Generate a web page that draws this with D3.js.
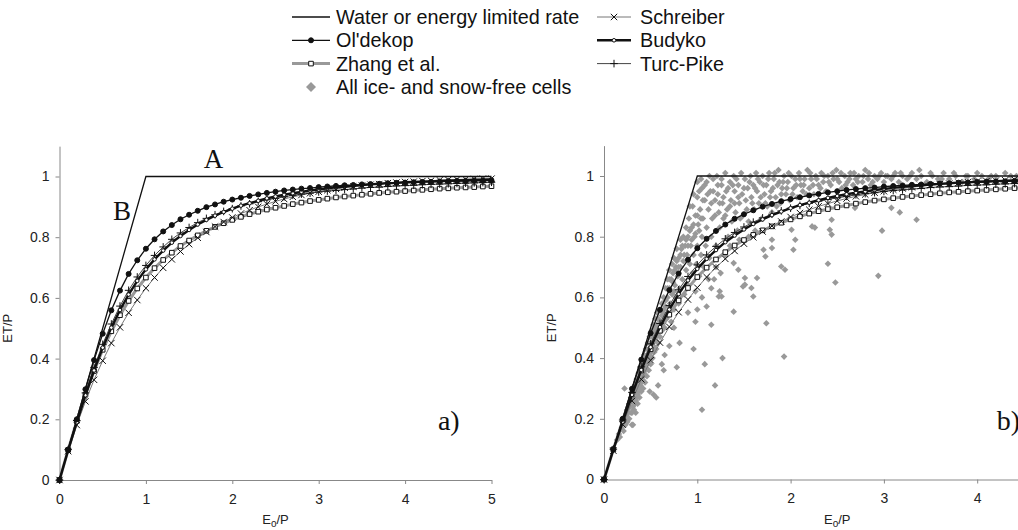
<!DOCTYPE html>
<html>
<head>
<meta charset="utf-8">
<script src="https://cdn.jsdelivr.net/npm/d3@7"></script>
<style>
  body { margin: 0; background: #fff; }
  text { font-family: Arial, "Liberation Sans", sans-serif; }
</style>
</head>
<body>
<div id="chart"></div>
<script>

// E0/P values at which the model curves are marked
var phi = [0,0.1,0.2,0.3,0.4,0.5,0.6,0.7,0.8,0.9,1,1.1,1.2,1.3,1.4,1.5,1.6,1.7,1.8,1.9,2,
  2.1,2.2,2.3,2.4,2.5,2.6,2.7,2.8,2.9,3,3.1,3.2,3.3,3.4,3.5,3.6,3.7,3.8,3.9,4,
  4.1,4.2,4.3,4.4,4.5,4.6,4.7,4.8,4.9,5];

// ET/P
var oldekop = [0,0.1,0.2,0.299,0.395,0.482,0.559,0.624,0.679,0.724,0.762,0.793,0.819,0.840,0.859,0.874,0.887,0.899,0.908,0.917,0.924,
  0.930,0.936,0.941,0.946,0.950,0.954,0.957,0.960,0.962,0.965,0.967,0.969,0.971,0.972,0.974,0.975,0.976,0.978,0.979,0.980,
  0.981,0.982,0.982,0.983,0.984,0.985,0.985,0.986,0.986,0.987];
var schreiber = [0,0.095,0.181,0.259,0.330,0.393,0.451,0.503,0.551,0.593,0.632,0.667,0.699,0.727,0.753,0.777,0.798,0.817,0.835,0.850,0.865,
  0.878,0.889,0.900,0.909,0.918,0.926,0.933,0.939,0.945,0.950,0.955,0.959,0.963,0.967,0.970,0.973,0.975,0.978,0.980,0.982,
  0.983,0.985,0.986,0.988,0.989,0.990,0.991,0.992,0.993,0.993];
var turcPike = [0,0.100,0.196,0.287,0.371,0.447,0.514,0.573,0.625,0.669,0.707,0.740,0.768,0.793,0.814,0.832,0.848,0.862,0.874,0.885,0.894,
  0.903,0.910,0.917,0.923,0.928,0.933,0.938,0.942,0.945,0.949,0.952,0.954,0.957,0.959,0.962,0.964,0.965,0.967,0.969,0.970,
  0.971,0.973,0.974,0.975,0.976,0.977,0.978,0.979,0.980,0.981];
var budyko = [0,0.098,0.190,0.279,0.361,0.436,0.502,0.560,0.611,0.656,0.694,0.727,0.756,0.782,0.804,0.824,0.842,0.857,0.871,0.883,0.894,
  0.904,0.912,0.920,0.928,0.934,0.940,0.945,0.949,0.954,0.957,0.961,0.964,0.967,0.969,0.972,0.974,0.976,0.978,0.979,0.981,
  0.982,0.983,0.984,0.985,0.986,0.987,0.988,0.989,0.989,0.990];
var zhang = [0,0.099,0.194,0.281,0.359,0.429,0.490,0.543,0.590,0.631,0.667,0.698,0.725,0.749,0.771,0.789,0.806,0.821,0.834,0.846,0.857,
  0.867,0.876,0.884,0.891,0.897,0.903,0.909,0.914,0.919,0.923,0.927,0.931,0.934,0.937,0.940,0.943,0.946,0.948,0.950,0.952,
  0.954,0.956,0.958,0.960,0.961,0.963,0.964,0.965,0.967,0.968];

// water or energy limit
var limitX = [0, 1, 5];
var limitY = [0, 1, 1];

// ice- and snow-free cells, [E0/P, ET/P]
var cells = [
  [0.14,0.13],[0.16,0.15],[0.17,0.14],[0.19,0.17],[0.2,0.19],[0.21,0.16],[0.22,0.2],[0.23,0.18],[0.24,0.21],[0.25,0.19],
  [0.25,0.23],[0.26,0.22],[0.27,0.2],[0.27,0.25],[0.28,0.24],[0.29,0.22],[0.29,0.27],[0.3,0.26],[0.3,0.18],[0.31,0.24],
  [0.31,0.29],[0.32,0.27],[0.33,0.25],[0.33,0.31],[0.34,0.29],[0.34,0.22],[0.35,0.27],[0.35,0.33],[0.36,0.31],[0.36,0.25],
  [0.37,0.29],[0.37,0.35],[0.38,0.33],[0.38,0.27],[0.39,0.31],[0.39,0.37],[0.4,0.35],[0.4,0.29],[0.41,0.33],[0.41,0.39],
  [0.42,0.37],[0.42,0.3],[0.43,0.35],[0.43,0.41],[0.44,0.39],[0.44,0.32],[0.45,0.37],[0.45,0.43],[0.46,0.41],[0.46,0.34],
  [0.47,0.39],[0.47,0.45],[0.48,0.43],[0.48,0.36],[0.49,0.41],[0.49,0.47],[0.5,0.45],[0.5,0.38],[0.51,0.42],[0.51,0.49],
  [0.52,0.47],[0.52,0.4],[0.53,0.44],[0.53,0.51],[0.54,0.49],[0.54,0.42],[0.55,0.46],[0.55,0.53],[0.56,0.51],[0.56,0.43],
  [0.57,0.48],[0.57,0.55],[0.58,0.53],[0.58,0.45],[0.59,0.5],[0.6,0.56],[0.6,0.47],[0.61,0.52],[0.62,0.58],[0.62,0.49],
  [0.31,0.18],[0.22,0.3],[0.49,0.29],[0.56,0.27],[0.58,0.31],[0.64,0.36],[0.62,0.38],[0.53,0.28],[0.65,0.41],[0.78,0.37],
  [0.81,0.45],[0.96,0.43],[1.08,0.38],[1.19,0.31],[1.05,0.23],[1.27,0.4],[1.93,0.405],[0.7,0.44],[0.75,0.5],
  [0.63,0.55],[0.64,0.6],[0.65,0.5],[0.66,0.57],[0.66,0.63],[0.67,0.53],[0.68,0.6],[0.68,0.66],[0.69,0.55],[0.7,0.63],
  [0.7,0.69],[0.71,0.58],[0.72,0.66],[0.72,0.52],[0.73,0.71],[0.73,0.61],[0.74,0.68],[0.75,0.56],[0.75,0.73],[0.76,0.64],
  [0.77,0.7],[0.77,0.6],[0.78,0.76],[0.79,0.67],[0.8,0.73],[0.8,0.58],[0.81,0.63],[0.82,0.79],[0.82,0.7],[0.83,0.76],
  [0.84,0.66],[0.85,0.8],[0.85,0.72],[0.86,0.61],[0.87,0.77],[0.88,0.83],[0.88,0.69],[0.89,0.74],[0.9,0.8],[0.9,0.64],
  [0.91,0.86],[0.92,0.71],[0.93,0.77],[0.94,0.83],[0.95,0.68],[0.95,0.9],[0.96,0.74],[0.97,0.8],[0.98,0.87],[0.98,0.62],
  [0.99,0.71],[1.0,0.93],[1.0,0.77],[1.01,0.84],[1.02,0.67],[1.03,0.89],[1.04,0.74],[1.05,0.96],[1.05,0.8],[1.06,0.86],
  [1.07,0.7],[1.08,0.92],[1.09,0.77],[1.1,0.98],[1.1,0.83],[1.12,0.89],[1.13,0.73],[1.14,0.95],[1.15,0.8],[1.16,0.86],
  [1.17,0.99],[1.18,0.66],[1.19,0.92],[1.2,0.77],
  [1.21,1.0],[1.22,0.94],[1.23,0.88],[1.24,0.83],[1.26,0.97],[1.27,0.91],[1.28,0.86],[1.3,1.01],[1.31,0.95],[1.32,0.89],
  [1.33,0.8],[1.35,0.98],[1.36,0.92],[1.37,0.85],[1.39,1.0],[1.4,0.95],[1.41,0.88],[1.43,0.82],[1.44,0.97],[1.45,0.91],
  [1.47,1.01],[1.48,0.94],[1.49,0.87],[1.51,0.99],[1.52,0.92],[1.54,0.96],[1.55,0.85],[1.57,1.0],[1.58,0.93],[1.6,0.97],
  [1.61,0.89],[1.63,1.01],[1.64,0.95],[1.66,0.91],[1.67,0.98],[1.69,0.86],[1.7,1.0],[1.72,0.94],[1.74,0.97],[1.75,0.9],
  [1.77,1.01],[1.79,0.95],[1.8,0.88],[1.82,0.99],[1.84,0.93],[1.86,0.97],[1.87,1.02],[1.89,0.91],[1.91,0.96],[1.93,1.0],
  [1.95,0.94],[1.97,0.98],[1.99,0.92],[2.01,1.0],[2.03,0.96],[2.05,0.99],[2.07,0.93],[2.09,1.01],[2.11,0.97],[2.13,0.95],
  [2.15,0.99],[2.18,1.02],[2.2,0.96],[2.22,0.99],[2.25,0.94],[2.27,1.0],[2.3,0.97],[2.33,1.01],[2.35,0.98],[2.38,0.95],
  [2.4,1.0],[2.43,0.97],[2.46,0.99],[2.49,1.02],[2.52,0.98],[2.55,0.96],[2.58,1.0],[2.61,0.98],[2.64,1.01],[2.67,0.97],
  [2.7,0.99],[2.73,1.0],[2.77,0.98],[2.8,1.02],[2.83,0.99],[2.86,0.97],[2.9,1.0],[2.93,0.99],[2.97,1.01],[3.0,0.98],
  [3.04,1.0],[3.08,0.99],[3.12,1.01],[3.16,0.98],[3.2,1.0],[3.25,0.99],[3.3,1.01],[3.35,0.99],[3.4,1.0],[3.46,0.98],
  [3.52,1.0],[3.58,0.99],[3.64,1.01],[3.7,0.99],[3.77,1.0],[3.84,0.98],[3.9,1.0],[3.97,0.99],[4.05,1.0],[4.12,0.99],
  [4.2,1.0],[4.28,0.98],[4.36,1.0],[4.45,0.99],[4.55,1.0],
  [2.01,0.823],[2.05,0.79],[1.8,0.79],[1.71,0.757],[1.9,0.702],[1.94,0.691],[1.44,0.691],[1.39,0.713],[1.51,0.664],[1.51,0.642],
  [1.64,0.664],[1.58,0.631],[1.6,0.603],[1.23,0.603],[1.26,0.603],[1.39,0.553],[1.15,0.51],[1.74,0.515],[2.03,0.757],[1.73,0.735],
  [1.8,0.763],[2.23,0.834],[2.26,0.83],[2.44,0.856],[2.42,0.823],[2.44,0.807],[2.4,0.711],[2.48,0.649],[2.94,0.671],[2.98,0.82],
  [3.08,0.895],[3.17,0.88],[2.69,0.895],[3.35,0.856],[1.24,0.62],[0.98,0.52],[1.49,0.636],
  [1.12,0.66],[1.2,0.7],[1.3,0.74],[1.35,0.77],[1.45,0.79],[1.55,0.8],[1.62,0.82],[1.25,0.68],[1.05,0.6],[1.15,0.63],
  [1.1,0.57],[0.9,0.55],[1.0,0.56],
  [0.92,0.9],[0.96,0.94],[1.0,0.98],[1.02,0.95],[1.04,0.99],[1.06,0.92],[1.08,0.97],[1.11,0.94],[1.13,1.0],[1.15,0.91],
  [1.17,0.95],[1.19,0.87],[1.22,0.97],[1.24,0.91],[1.26,0.99],[1.28,0.93],[1.3,0.87],[1.33,0.96],[1.35,0.9],[1.38,0.97],
  [1.4,0.91],[1.42,0.99],[1.44,0.93],[1.46,0.86],[1.5,0.96],[1.53,0.89],[1.56,0.98],[1.59,0.91],[1.62,0.96],[1.65,0.99],
  [1.68,0.93],[1.71,0.97],[1.73,0.91],[1.76,0.99],[1.78,0.93],[1.81,0.96],[1.83,1.01],[1.85,0.9],[1.88,0.98],[1.9,0.94],
  [1.92,0.98],[1.96,0.96],[1.98,1.01],[2.02,0.94],[2.06,0.97],[2.1,0.99],[2.14,0.97],[2.17,0.94],[2.21,1.01],[2.24,0.97],
  [2.28,0.99],[2.32,0.96],[2.36,1.0],[2.41,0.98],[2.45,1.01],[2.5,0.99],[2.54,1.01],[2.59,0.97],[2.63,0.99],[2.68,1.01],
  [2.72,0.98],[2.78,1.0],[2.84,1.01],[2.88,0.98],[2.95,1.0],[3.02,1.0],[3.1,1.0],[3.18,1.01],[3.28,1.0],[3.38,1.02],
  [3.5,1.01],[3.62,0.99],[3.75,1.01],[3.88,1.0],[4.0,1.01],[4.15,1.0],[4.3,1.01],[4.42,1.0],
  [0.3,0.22],[0.32,0.23],[0.34,0.26],[0.36,0.28],[0.38,0.3],[0.4,0.32],[0.42,0.34],[0.44,0.36],[0.46,0.38],[0.48,0.4],
  [0.5,0.42],[0.52,0.44],[0.54,0.46],[0.56,0.48],[0.58,0.5],[0.6,0.52],[0.62,0.54],[0.64,0.56],[0.66,0.59],[0.68,0.63],
  [0.7,0.66],[0.72,0.62],[0.74,0.65],[0.76,0.69],[0.78,0.72],[0.8,0.7],[0.82,0.74],[0.84,0.77],[0.86,0.74],[0.88,0.79],
  [0.9,0.77],[0.92,0.82],[0.94,0.79],[0.96,0.84],[0.98,0.81],[1.0,0.87],[1.02,0.82],[1.04,0.86],[0.35,0.3],[0.45,0.4],
  [0.55,0.5],[0.65,0.54],[0.75,0.62]
];

var xTicks = [0, 1, 2, 3, 4, 5];
var yTicks = [0, 0.2, 0.4, 0.6, 0.8, 1];

var models = [
  {name: "Zhang et al.", values: zhang, stroke: "#999", width: 3, marker: "square", size: 2.3, fill: "#fff", mstroke: "#111"},
  {name: "Schreiber", values: schreiber, stroke: "#777", width: 1, marker: "times", size: 3.2, fill: "none", mstroke: "#111"},
  {name: "Turc-Pike", values: turcPike, stroke: "#444", width: 1, marker: "plus", size: 3.8, fill: "none", mstroke: "#111"},
  {name: "Budyko", values: budyko, stroke: "#111", width: 2.4, marker: "circle", size: 1.8, fill: "#fff", mstroke: "#111"},
  {name: "Ol'dekop", values: oldekop, stroke: "#111", width: 1.3, marker: "circle", size: 2.5, fill: "#111", mstroke: "#111"}
];

var svg = d3.select("#chart")
  .append("svg")
    .attr("width", 1018)
    .attr("height", 530);

function markerPath(kind, s) {
  if (kind == "plus") return "M" + (-s) + ",0H" + s + "M0," + (-s) + "V" + s;
  if (kind == "times") return "M" + (-s) + "," + (-s) + "L" + s + "," + s + "M" + (-s) + "," + s + "L" + s + "," + (-s);
  if (kind == "square") return "M" + (-s) + "," + (-s) + "h" + (2 * s) + "v" + (2 * s) + "h" + (-2 * s) + "Z";
  if (kind == "diamond") return "M0," + (-s) + "L" + s + ",0L0," + s + "L" + (-s) + ",0Z";
  return d3.symbol(d3.symbolCircle, Math.PI * s * s)();
}

function drawPanel(opt) {
  var x = d3.scaleLinear().domain([0, 5]).range([opt.left, opt.right]);
  var y = d3.scaleLinear().domain([0, 1.1]).range([opt.bottom, opt.bottom - 1.1 * 303.5]);
  var g = svg.append("g");

  var xAxis = g.append("g")
    .attr("transform", "translate(0," + opt.bottom + ")")
    .call(d3.axisBottom(x).tickValues(xTicks).tickSize(4).tickSizeOuter(0).tickPadding(10).tickFormat(function(d) { return d; }));
  var yAxis = g.append("g")
    .attr("transform", "translate(" + opt.left + ",0)")
    .call(d3.axisLeft(y).tickValues(yTicks).tickSize(4).tickSizeOuter(0).tickPadding(6).tickFormat(function(d) { return d; }));
  [xAxis, yAxis].forEach(function(a) {
    a.select(".domain").attr("stroke", "#888");
    a.selectAll(".tick line").attr("stroke", "#888");
    a.selectAll(".tick text").attr("fill", "#222").style("font-size", "14px").style("font-family", "Arial, 'Liberation Sans', sans-serif");
  });

  // axis titles
  g.append("text")
    .attr("x", x(2.5)).attr("y", 524)
    .attr("text-anchor", "middle").attr("fill", "#222").style("font-size", "13px")
    .text("E")
    .append("tspan").attr("dy", 3).style("font-size", "10px").text("o")
    .select(function() { return this.parentNode; })
    .append("tspan").attr("dy", -3).text("/P");
  g.append("text")
    .attr("transform", "translate(" + (opt.left - 48) + "," + y(0.5) + ") rotate(-90)")
    .attr("text-anchor", "middle").attr("fill", "#222").style("font-size", "13px")
    .text("ET/P");

  if (opt.scatter) {
    g.append("g").selectAll("path")
      .data(cells)
      .enter()
      .append("path")
        .attr("d", markerPath("diamond", 3.3))
        .attr("transform", function(d) { return "translate(" + x(d[0]) + "," + y(d[1]) + ")"; })
        .attr("fill", "#999");
  }

  var limitLine = d3.line().x(function(d) { return x(d); }).y(function(d, i) { return y(limitY[i]); });
  g.append("path")
    .attr("d", limitLine(limitX))
    .attr("fill", "none").attr("stroke", "#111").attr("stroke-width", 1.3);

  models.forEach(function(m) {
    var line = d3.line().x(function(d) { return x(d); }).y(function(d, i) { return y(m.values[i]); });
    g.append("path")
      .attr("d", line(phi))
      .attr("fill", "none").attr("stroke", m.stroke).attr("stroke-width", m.width);
    g.append("g").selectAll("path")
      .data(phi)
      .enter()
      .append("path")
        .attr("d", markerPath(m.marker, m.size))
        .attr("transform", function(d, i) { return "translate(" + x(d) + "," + y(m.values[i]) + ")"; })
        .attr("fill", m.fill).attr("stroke", m.mstroke).attr("stroke-width", 1);
  });

  // panel annotations
  opt.notes.forEach(function(n) {
    g.append("text")
      .attr("x", x(n.x)).attr("y", y(n.y))
      .attr("fill", "#111")
      .style("font-family", "'Liberation Serif', 'Times New Roman', serif")
      .style("font-size", n.size + "px")
      .text(n.text);
  });
}

drawPanel({left: 59.5, right: 491.5, bottom: 480, scatter: false,
  notes: [{text: "A", x: 1.67, y: 1.027, size: 27}, {text: "B", x: 0.62, y: 0.857, size: 27}, {text: "a)", x: 4.38, y: 0.164, size: 28}]});
drawPanel({left: 604, right: 1070.5, bottom: 479.5, scatter: true,
  notes: [{text: "b)", x: 4.21, y: 0.164, size: 28}]});

// legend
var legendItems = [
  {name: "Water or energy limited rate", col: 0, row: 0, stroke: "#111", width: 1.3, marker: null},
  {name: "Ol'dekop", col: 0, row: 1, model: 4},
  {name: "Zhang et al.", col: 0, row: 2, model: 0},
  {name: "All ice- and snow-free cells", col: 0, row: 3, diamond: true},
  {name: "Schreiber", col: 1, row: 0, model: 1},
  {name: "Budyko", col: 1, row: 1, model: 3},
  {name: "Turc-Pike", col: 1, row: 2, model: 2}
];
var legendCols = [{x0: 292, x1: 330, tx: 336}, {x0: 597, x1: 631, tx: 640}];

var legend = svg.append("g");
legendItems.forEach(function(it) {
  var c = legendCols[it.col];
  var ly = 17 + it.row * 23.3;
  var mid = (c.x0 + c.x1) / 2;
  if (it.diamond) {
    legend.append("path").attr("d", markerPath("diamond", 5))
      .attr("transform", "translate(" + mid + "," + ly + ")").attr("fill", "#999");
  } else if (it.model === undefined) {
    legend.append("line").attr("x1", c.x0).attr("x2", c.x1).attr("y1", ly).attr("y2", ly)
      .attr("stroke", it.stroke).attr("stroke-width", it.width);
  } else {
    var m = models[it.model];
    legend.append("line").attr("x1", c.x0).attr("x2", c.x1).attr("y1", ly).attr("y2", ly)
      .attr("stroke", m.stroke).attr("stroke-width", m.width);
    legend.append("path").attr("d", markerPath(m.marker, m.size))
      .attr("transform", "translate(" + mid + "," + ly + ")")
      .attr("fill", m.fill).attr("stroke", m.mstroke).attr("stroke-width", 1);
  }
  legend.append("text")
    .attr("x", c.tx).attr("y", ly + 7)
    .attr("fill", "#111").style("font-size", "19.8px")
    .text(it.name);
});

</script>
</body>
</html>
